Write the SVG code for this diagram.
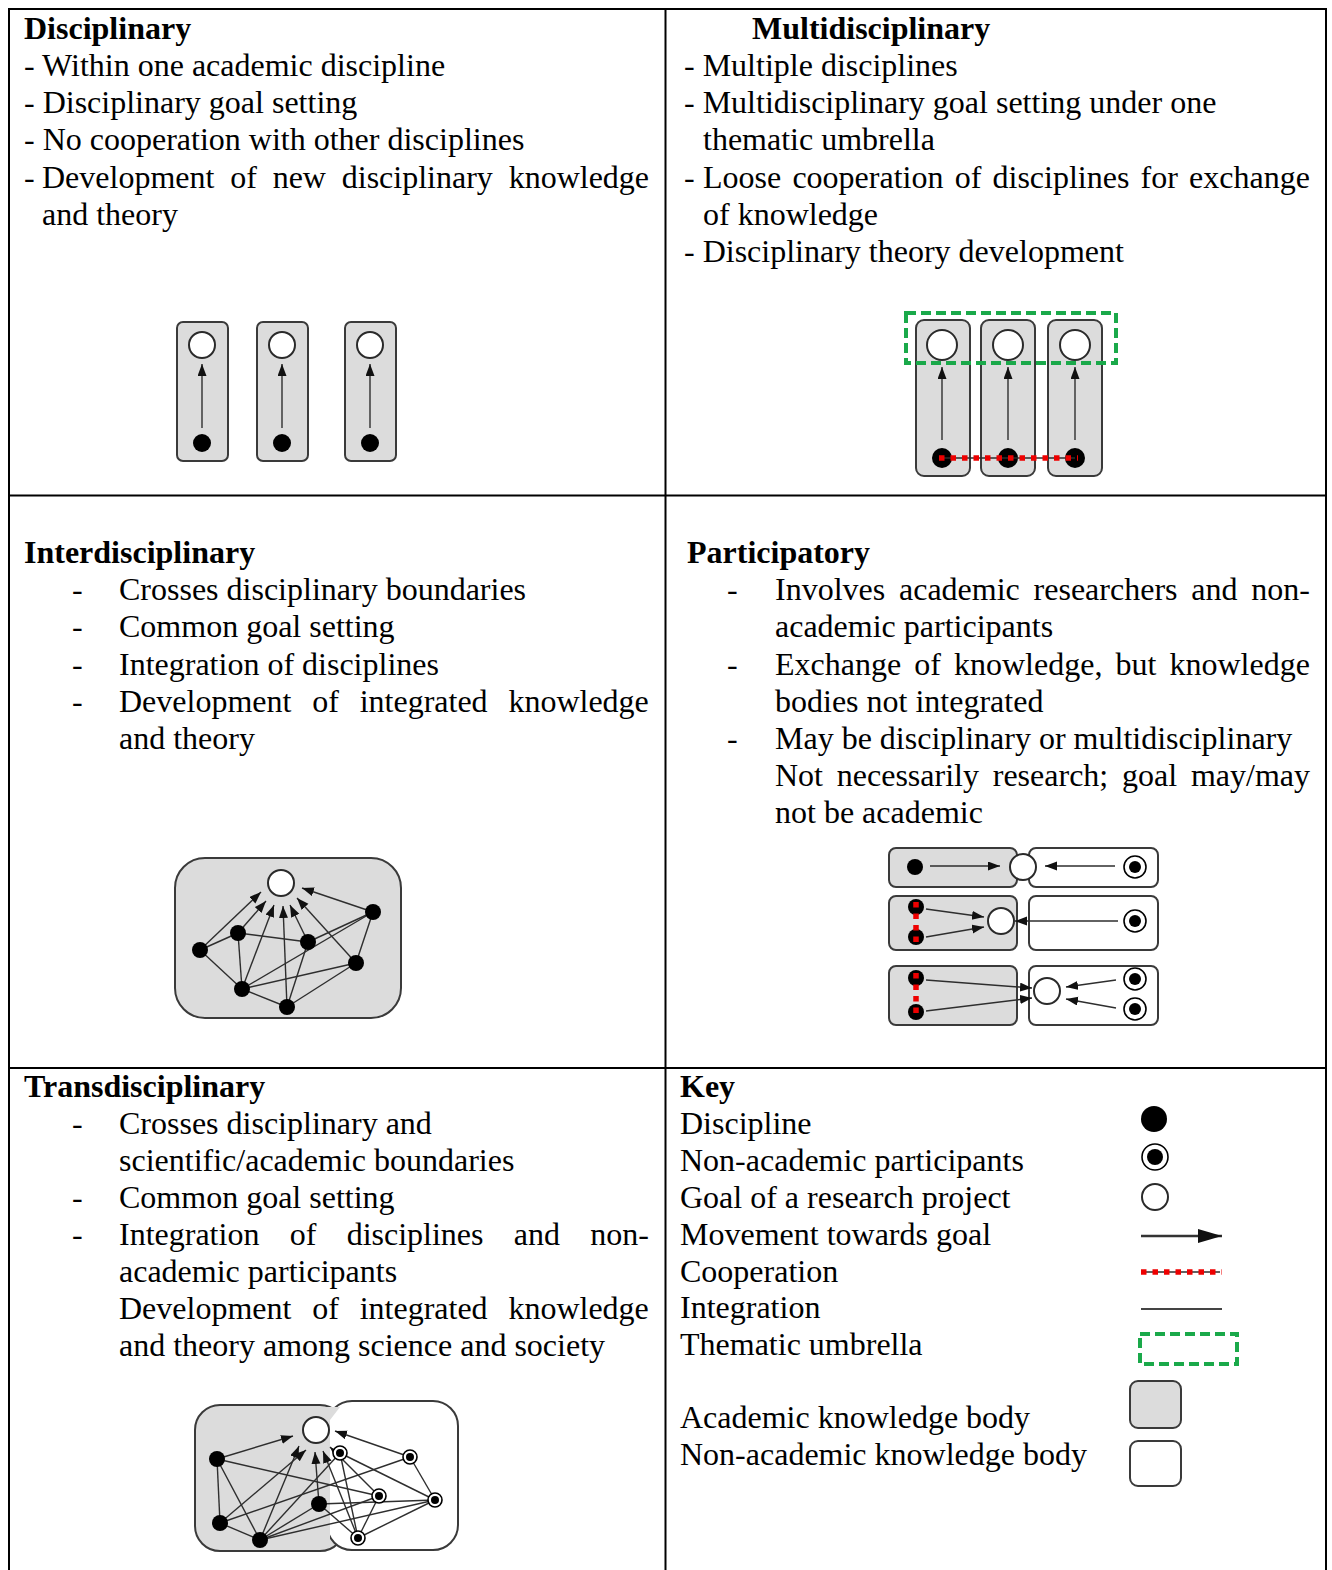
<svg xmlns="http://www.w3.org/2000/svg" width="1332" height="1570" viewBox="0 0 1332 1570">
  <style>
    .t { font-family: "Liberation Serif", "Times New Roman", serif; font-size: 32px; fill: #000; }
    .b { font-weight: bold; }
    .grid { stroke: #000; stroke-width: 2; fill: none; }
    .acad { fill: #dcdcdc; stroke: #3a3a3a; stroke-width: 2; }
    .nonacad { fill: #fff; stroke: #3a3a3a; stroke-width: 2; }
    .goal { fill: #fff; stroke: #2a2a2a; stroke-width: 2; }
    .dot { fill: #000; }
    .ring { fill: #fff; stroke: #000; stroke-width: 1.6; }
    .ln { stroke: #2e2e2e; stroke-width: 1.4; fill: none; }
    .arr { stroke: #2e2e2e; stroke-width: 1.4; fill: none; marker-end: url(#ah); }
    .coop { stroke: #ee0000; stroke-width: 5.5; stroke-dasharray: 5.5 6; fill: none; }
    .umb { fill: none; stroke: #1aa94a; stroke-width: 4; stroke-dasharray: 10 5; }
  </style>
  <defs>
    <marker id="ah" markerUnits="userSpaceOnUse" markerWidth="13" markerHeight="10" refX="12" refY="4.5" orient="auto">
      <path d="M0,0 L12,4.5 L0,9 z" fill="#111"/>
    </marker>
    <marker id="ahL" markerUnits="userSpaceOnUse" markerWidth="26" markerHeight="16" refX="24" refY="7" orient="auto">
      <path d="M0,0 L24,7 L0,14 z" fill="#111"/>
    </marker>
  </defs>

  <!-- table grid -->
  <g id="table">
    <path class="grid" d="M9,1570 V9 H1326 V1570"/>
    <line class="grid" x1="665.5" y1="9" x2="665.5" y2="1570"/>
    <line class="grid" x1="9" y1="495.5" x2="1326" y2="495.5"/>
    <line class="grid" x1="9" y1="1068" x2="1326" y2="1068"/>
  </g>

  <!-- Disciplinary -->
  <g id="disciplinary-text">
    <text class="t b" x="24" y="39">Disciplinary</text>
    <text class="t" x="24" y="76">- Within one academic discipline</text>
    <text class="t" x="24" y="113">- Disciplinary goal setting</text>
    <text class="t" x="24" y="150">- No cooperation with other disciplines</text>
    <text class="t" x="24" y="188">-</text>
    <text class="t" x="42" y="188" word-spacing="7.8">Development of new disciplinary knowledge</text>
    <text class="t" x="42" y="225">and theory</text>
  </g>
  <g id="disciplinary-diagram">
    <rect class="acad" x="177" y="322" width="51" height="139" rx="6"/>
    <rect class="acad" x="257" y="322" width="51" height="139" rx="6"/>
    <rect class="acad" x="345" y="322" width="51" height="139" rx="6"/>
    <g>
      <line class="arr" x1="202" y1="428" x2="202" y2="364"/>
      <line class="arr" x1="282" y1="428" x2="282" y2="364"/>
      <line class="arr" x1="370" y1="428" x2="370" y2="364"/>
    </g>
    <circle class="goal" cx="202" cy="345" r="13"/>
    <circle class="goal" cx="282" cy="345" r="13"/>
    <circle class="goal" cx="370" cy="345" r="13"/>
    <circle class="dot" cx="202" cy="443" r="9"/>
    <circle class="dot" cx="282" cy="443" r="9"/>
    <circle class="dot" cx="370" cy="443" r="9"/>
  </g>

  <!-- Multidisciplinary -->
  <g id="multidisciplinary-text">
    <text class="t b" x="752" y="39">Multidisciplinary</text>
    <text class="t" x="684" y="76">- Multiple disciplines</text>
    <text class="t" x="684" y="113">- Multidisciplinary goal setting under one</text>
    <text class="t" x="703" y="150">thematic umbrella</text>
    <text class="t" x="684" y="188">-</text>
    <text class="t" x="703" y="188" word-spacing="3.2">Loose cooperation of disciplines for exchange</text>
    <text class="t" x="703" y="225">of knowledge</text>
    <text class="t" x="684" y="262">- Disciplinary theory development</text>
  </g>
  <g id="multidisciplinary-diagram">
    <rect class="acad" x="916" y="320" width="54" height="156" rx="8"/>
    <rect class="acad" x="981" y="320" width="54" height="156" rx="8"/>
    <rect class="acad" x="1048" y="320" width="54" height="156" rx="8"/>
    <g>
      <line class="arr" x1="942" y1="440" x2="942" y2="367"/>
      <line class="arr" x1="1008" y1="440" x2="1008" y2="367"/>
      <line class="arr" x1="1075" y1="440" x2="1075" y2="367"/>
    </g>
    <circle class="goal" cx="942" cy="345" r="15"/>
    <circle class="goal" cx="1008" cy="345" r="15"/>
    <circle class="goal" cx="1075" cy="345" r="15"/>
    <circle class="dot" cx="942" cy="458" r="10"/>
    <circle class="dot" cx="1008" cy="458" r="10"/>
    <circle class="dot" cx="1075" cy="458" r="10"/>
    <line class="ln" x1="942" y1="458" x2="1075" y2="458"/>
    <line class="coop" x1="939" y1="458" x2="1078" y2="458"/>
    <rect class="umb" x="906" y="313" width="210" height="50"/>
  </g>

  <!-- Interdisciplinary -->
  <g id="interdisciplinary-text">
    <text class="t b" x="24" y="563">Interdisciplinary</text>
    <text class="t" x="72" y="600">-</text>
    <text class="t" x="119" y="600">Crosses disciplinary boundaries</text>
    <text class="t" x="72" y="637">-</text>
    <text class="t" x="119" y="637">Common goal setting</text>
    <text class="t" x="72" y="675">-</text>
    <text class="t" x="119" y="675">Integration of disciplines</text>
    <text class="t" x="72" y="712">-</text>
    <text class="t" x="119" y="712" word-spacing="12.8">Development of integrated knowledge</text>
    <text class="t" x="119" y="749">and theory</text>
  </g>
  <g id="interdisciplinary-diagram">
    <rect class="acad" x="175" y="858" width="226" height="160" rx="30"/>
    <g>
      <line class="ln" x1="200" y1="950" x2="238" y2="933"/>
      <line class="ln" x1="200" y1="950" x2="242" y2="989"/>
      <line class="ln" x1="238" y1="933" x2="308" y2="942"/>
      <line class="ln" x1="238" y1="933" x2="242" y2="989"/>
      <line class="ln" x1="242" y1="989" x2="287" y2="1007"/>
      <line class="ln" x1="287" y1="1007" x2="356" y2="963"/>
      <line class="ln" x1="356" y1="963" x2="373" y2="912"/>
      <line class="ln" x1="242" y1="989" x2="373" y2="912"/>
      <line class="ln" x1="242" y1="989" x2="356" y2="963"/>
      <line class="ln" x1="308" y1="942" x2="373" y2="912"/>
      <line class="ln" x1="287" y1="1007" x2="308" y2="942"/>
      <line class="arr" x1="200" y1="950" x2="261" y2="892"/>
      <line class="arr" x1="238" y1="933" x2="266" y2="901"/>
      <line class="arr" x1="242" y1="989" x2="274" y2="905"/>
      <line class="arr" x1="287" y1="1007" x2="283" y2="906"/>
      <line class="arr" x1="308" y1="942" x2="290" y2="905"/>
      <line class="arr" x1="356" y1="963" x2="297" y2="898"/>
      <line class="arr" x1="373" y1="912" x2="302" y2="888"/>
    </g>
    <circle class="goal" cx="281" cy="883" r="13"/>
    <circle class="dot" cx="200" cy="950" r="8"/>
    <circle class="dot" cx="238" cy="933" r="8"/>
    <circle class="dot" cx="308" cy="942" r="8"/>
    <circle class="dot" cx="373" cy="912" r="8"/>
    <circle class="dot" cx="356" cy="963" r="8"/>
    <circle class="dot" cx="242" cy="989" r="8"/>
    <circle class="dot" cx="287" cy="1007" r="8"/>
  </g>

  <!-- Participatory -->
  <g id="participatory-text">
    <text class="t b" x="687" y="563">Participatory</text>
    <text class="t" x="727" y="600">-</text>
    <text class="t" x="775" y="600" word-spacing="5.8">Involves academic researchers and non-</text>
    <text class="t" x="775" y="637">academic participants</text>
    <text class="t" x="727" y="675">-</text>
    <text class="t" x="775" y="675" word-spacing="5.1">Exchange of knowledge, but knowledge</text>
    <text class="t" x="775" y="712">bodies not integrated</text>
    <text class="t" x="727" y="749">-</text>
    <text class="t" x="775" y="749">May be disciplinary or multidisciplinary</text>
    <text class="t" x="775" y="786" word-spacing="5.8">Not necessarily research; goal may/may</text>
    <text class="t" x="775" y="823">not be academic</text>
  </g>
  <g id="participatory-diagram">
    <!-- row 1: separate bodies exchanging towards a shared goal -->
    <rect class="acad" x="889" y="848" width="128" height="39" rx="7"/>
    <rect class="nonacad" x="1029" y="848" width="129" height="39" rx="7"/>
    <line class="arr" x1="930" y1="866" x2="1000" y2="866"/>
    <line class="arr" x1="1115" y1="866" x2="1045" y2="866"/>
    <circle class="goal" cx="1023" cy="867" r="13"/>
    <circle class="dot" cx="915" cy="867" r="8"/>
    <circle class="ring" cx="1135" cy="867" r="11"/>
    <circle class="dot" cx="1135" cy="867" r="6"/>
    <!-- row 2: goal inside the academic body -->
    <rect class="acad" x="889" y="896" width="128" height="54" rx="7"/>
    <rect class="nonacad" x="1029" y="896" width="129" height="54" rx="7"/>
    <line class="arr" x1="926" y1="909" x2="984" y2="917"/>
    <line class="arr" x1="926" y1="937" x2="984" y2="927"/>
    <line class="arr" x1="1118" y1="921" x2="1015" y2="921"/>
    <circle class="goal" cx="1001" cy="921" r="13"/>
    <circle class="dot" cx="916" cy="907" r="8"/>
    <circle class="dot" cx="916" cy="937" r="8"/>
    <line class="coop" x1="916" y1="902" x2="916" y2="942"/>
    <circle class="ring" cx="1135" cy="921" r="11"/>
    <circle class="dot" cx="1135" cy="921" r="6"/>
    <!-- row 3: goal inside the non-academic body -->
    <rect class="acad" x="889" y="966" width="128" height="59" rx="7"/>
    <rect class="nonacad" x="1029" y="966" width="129" height="59" rx="7"/>
    <line class="arr" x1="926" y1="980" x2="1032" y2="988"/>
    <line class="arr" x1="926" y1="1011" x2="1032" y2="998"/>
    <line class="arr" x1="1116" y1="980" x2="1066" y2="987"/>
    <line class="arr" x1="1116" y1="1008" x2="1066" y2="999"/>
    <circle class="goal" cx="1047" cy="991" r="13"/>
    <circle class="dot" cx="916" cy="978" r="8"/>
    <circle class="dot" cx="916" cy="1012" r="8"/>
    <line class="coop" x1="916" y1="973" x2="916" y2="1017"/>
    <circle class="ring" cx="1135" cy="979" r="11"/>
    <circle class="dot" cx="1135" cy="979" r="6"/>
    <circle class="ring" cx="1135" cy="1009" r="11"/>
    <circle class="dot" cx="1135" cy="1009" r="6"/>
  </g>

  <!-- Transdisciplinary -->
  <g id="transdisciplinary-text">
    <text class="t b" x="24" y="1097">Transdisciplinary</text>
    <text class="t" x="72" y="1134">-</text>
    <text class="t" x="119" y="1134">Crosses disciplinary and</text>
    <text class="t" x="119" y="1171">scientific/academic boundaries</text>
    <text class="t" x="72" y="1208">-</text>
    <text class="t" x="119" y="1208">Common goal setting</text>
    <text class="t" x="72" y="1245">-</text>
    <text class="t" x="119" y="1245" word-spacing="22.3">Integration of disciplines and non-</text>
    <text class="t" x="119" y="1282">academic participants</text>
    <text class="t" x="119" y="1319" word-spacing="12.8">Development of integrated knowledge</text>
    <text class="t" x="119" y="1356">and theory among science and society</text>
  </g>
  <g id="transdisciplinary-diagram">
    <rect class="acad" x="195" y="1405" width="150" height="146" rx="25"/>
    <rect class="nonacad" x="327" y="1401" width="131" height="149" rx="25"/>
    <path d="M330,1420 V1548 H300 V1407 H340 Z" fill="#dcdcdc"/>
    <g>
      <line class="ln" x1="217" y1="1459" x2="220" y2="1523"/>
      <line class="ln" x1="217" y1="1459" x2="260" y2="1540"/>
      <line class="ln" x1="217" y1="1459" x2="379" y2="1496"/>
      <line class="ln" x1="220" y1="1523" x2="260" y2="1540"/>
      <line class="ln" x1="220" y1="1523" x2="410" y2="1457"/>
      <line class="ln" x1="260" y1="1540" x2="319" y2="1504"/>
      <line class="ln" x1="260" y1="1540" x2="379" y2="1496"/>
      <line class="ln" x1="260" y1="1540" x2="435" y2="1500"/>
      <line class="ln" x1="260" y1="1540" x2="340" y2="1453"/>
      <line class="ln" x1="319" y1="1504" x2="435" y2="1500"/>
      <line class="ln" x1="319" y1="1504" x2="358" y2="1538"/>
      <line class="ln" x1="340" y1="1453" x2="435" y2="1500"/>
      <line class="ln" x1="340" y1="1453" x2="358" y2="1538"/>
      <line class="ln" x1="410" y1="1457" x2="435" y2="1500"/>
      <line class="ln" x1="379" y1="1496" x2="358" y2="1538"/>
      <line class="ln" x1="435" y1="1500" x2="358" y2="1538"/>
      <line class="arr" x1="217" y1="1459" x2="293" y2="1436"/>
      <line class="arr" x1="260" y1="1540" x2="299" y2="1446"/>
      <line class="arr" x1="220" y1="1523" x2="306" y2="1450"/>
      <line class="arr" x1="319" y1="1504" x2="315" y2="1452"/>
      <line class="arr" x1="358" y1="1538" x2="323" y2="1451"/>
      <line class="arr" x1="379" y1="1496" x2="330" y2="1447"/>
      <line class="arr" x1="410" y1="1457" x2="335" y2="1431"/>
    </g>
    <circle class="goal" cx="316" cy="1430" r="13"/>
    <circle class="dot" cx="217" cy="1459" r="8"/>
    <circle class="dot" cx="220" cy="1523" r="8"/>
    <circle class="dot" cx="260" cy="1540" r="8"/>
    <circle class="dot" cx="319" cy="1504" r="8"/>
    <circle class="ring" cx="340" cy="1453" r="7"/>
    <circle class="dot" cx="340" cy="1453" r="4"/>
    <circle class="ring" cx="410" cy="1457" r="7"/>
    <circle class="dot" cx="410" cy="1457" r="4"/>
    <circle class="ring" cx="379" cy="1496" r="7"/>
    <circle class="dot" cx="379" cy="1496" r="4"/>
    <circle class="ring" cx="435" cy="1500" r="7"/>
    <circle class="dot" cx="435" cy="1500" r="4"/>
    <circle class="ring" cx="358" cy="1538" r="7"/>
    <circle class="dot" cx="358" cy="1538" r="4"/>
  </g>

  <!-- Key -->
  <g id="key-text">
    <text class="t b" x="680" y="1097">Key</text>
    <text class="t" x="680" y="1134">Discipline</text>
    <text class="t" x="680" y="1171">Non-academic participants</text>
    <text class="t" x="680" y="1208">Goal of a research project</text>
    <text class="t" x="680" y="1245">Movement towards goal</text>
    <text class="t" x="680" y="1282">Cooperation</text>
    <text class="t" x="680" y="1318">Integration</text>
    <text class="t" x="680" y="1355">Thematic umbrella</text>
    <text class="t" x="680" y="1428">Academic knowledge body</text>
    <text class="t" x="680" y="1465">Non-academic knowledge body</text>
  </g>
  <g id="key-symbols">
    <circle class="dot" cx="1154" cy="1119" r="13"/>
    <circle class="ring" cx="1155" cy="1157" r="13" stroke-width="2.2"/>
    <circle class="dot" cx="1155" cy="1157" r="8"/>
    <circle class="goal" cx="1155" cy="1197" r="13" stroke-width="2.4"/>
    <line x1="1141" y1="1236" x2="1222" y2="1236" stroke="#333" stroke-width="2.5" marker-end="url(#ahL)"/>
    <line class="ln" x1="1141" y1="1272" x2="1220" y2="1272"/>
    <line class="coop" x1="1141" y1="1272" x2="1222" y2="1272"/>
    <line x1="1141" y1="1309" x2="1222" y2="1309" stroke="#444" stroke-width="2"/>
    <rect class="umb" x="1140" y="1334" width="97" height="30"/>
    <rect class="acad" x="1130" y="1381" width="51" height="47" rx="8" stroke-width="2.5"/>
    <rect class="nonacad" x="1130" y="1441" width="51" height="45" rx="8" stroke-width="2.5"/>
  </g>
</svg>
